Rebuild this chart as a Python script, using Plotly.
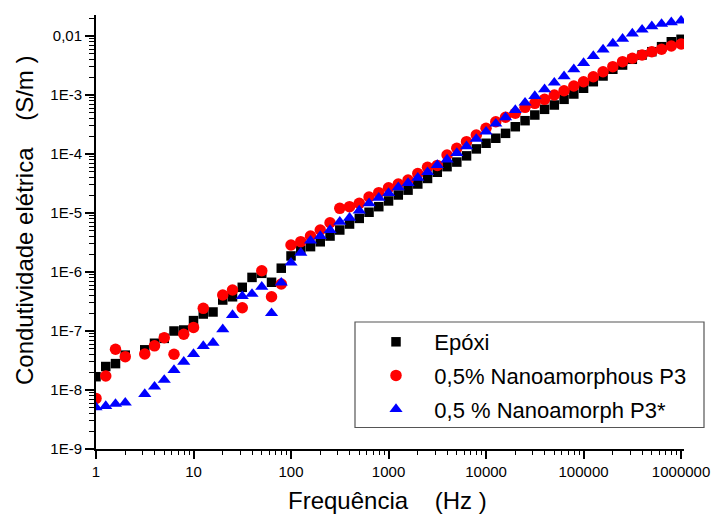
import plotly.graph_objects as go

# Frequency (Hz)
freq = [1, 1.259, 1.585, 1.995, 2.512, 3.162, 3.981, 5.012, 6.31, 7.943,
        10, 12.59, 15.85, 19.95, 25.12, 31.62, 39.81, 50.12, 63.1, 79.43,
        100, 125.9, 158.5, 199.5, 251.2, 316.2, 398.1, 501.2, 631, 794.3,
        1000, 1259, 1585, 1995, 2512, 3162, 3981, 5012, 6310, 7943,
        10000, 12589, 15849, 19953, 25119, 31623, 39811, 50119, 63096, 79433,
        100000, 125893, 158489, 199526, 251189, 316228, 398107, 501187, 630957, 794328,
        1000000]

epoxi = [1.68e-8, 2.5e-8, 2.8e-8, 3.9e-8, None, 4.8e-8, 6.2e-8, 7.5e-8, 1.0e-7, 1.04e-7,
         1.5e-7, 1.94e-7, 2.1e-7, 3.35e-7, 3.8e-7, 5.5e-7, 8.1e-7, 9.5e-7, 6.7e-7, 1.16e-6,
         1.87e-6, 2.36e-6, 2.69e-6, 3.25e-6, 4.07e-6, 5.15e-6, 6.5e-6, 8.1e-6, 1.03e-5, 1.28e-5,
         1.6e-5, 2.02e-5, 2.44e-5, 3.1e-5, 3.85e-5, 4.9e-5, 6.1e-5, 7.3e-5, 9.3e-5, 1.22e-4,
         1.52e-4, 1.85e-4, 2.24e-4, 2.9e-4, 3.67e-4, 4.58e-4, 5.72e-4, 6.77e-4, 8.45e-4, 1.04e-3,
         1.3e-3, 1.68e-3, 2.1e-3, 2.73e-3, 3.22e-3, 4.03e-3, 4.76e-3, 5.42e-3, 6.59e-3, 8.0e-3,
         8.8e-3]

nano = [7.2e-9, 1.73e-8, 4.9e-8, 3.67e-8, None, 4.07e-8, 5.6e-8, 7.7e-8, 4.03e-8, 8.8e-8,
        1.15e-7, 2.42e-7, None, 4.07e-7, 4.95e-7, 2.48e-7, None, 1.05e-6, 3.8e-7, 6.26e-7,
        2.87e-6, 3.27e-6, 4.07e-6, 5.15e-6, 6.85e-6, 1.2e-5, 1.28e-5, 1.46e-5, 1.87e-5, 2.21e-5,
        2.68e-5, 3.1e-5, 3.63e-5, 4.65e-5, 5.94e-5, 6.4e-5, 9.62e-5, 1.25e-4, 1.62e-4, 2.1e-4,
        2.73e-4, 3.52e-4, 4.19e-4, 4.9e-4, 6.18e-4, 7.23e-4, 8.45e-4, 1.0e-3, 1.18e-3, 1.42e-3,
        1.68e-3, 2.04e-3, 2.48e-3, 3.02e-3, 3.67e-3, 4.19e-3, 4.76e-3, 5.42e-3, 5.96e-3, 6.78e-3,
        7.31e-3]

nano_star = [5.1e-9, 5.35e-9, 5.8e-9, 6.1e-9, None, 8.55e-9, 1.14e-8, 1.48e-8, 2.18e-8, 3.0e-8,
             4.07e-8, 5.57e-8, 6.3e-8, 1.07e-7, 1.86e-7, 3.9e-7, 4.24e-7, 5.6e-7, 2.0e-7, 6.6e-7,
             1.44e-6, 2.12e-6, 3.39e-6, 4.07e-6, 5.15e-6, 7.1e-6, 8.3e-6, 1.1e-5, 1.46e-5, 1.81e-5,
             2.18e-5, 2.73e-5, 3.22e-5, 3.95e-5, 4.92e-5, 6.51e-5, 8.04e-5, 1.04e-4, 1.35e-4, 1.8e-4,
             2.39e-4, 3.26e-4, 4.19e-4, 5.57e-4, 7.4e-4, 9.6e-4, 1.25e-3, 1.62e-3, 2.07e-3, 2.73e-3,
             3.48e-3, 4.58e-3, 5.88e-3, 7.43e-3, 8.97e-3, 1.1e-2, 1.28e-2, 1.46e-2, 1.6e-2, 1.71e-2,
             1.82e-2]

series_names = ["Epóxi", "0,5% Nanoamorphous P3", "0,5 % Nanoamorph P3*"]

x_tickvals = [1, 10, 100, 1000, 10000, 100000, 1000000]
x_ticktext = ["1", "10", "100", "1000", "10000", "100000", "1000000"]
y_tickvals = [1e-9, 1e-8, 1e-7, 1e-6, 1e-5, 1e-4, 1e-3, 1e-2]
y_ticktext = ["1E-9", "1E-8", "1E-7", "1E-6", "1E-5", "1E-4", "1E-3", "0,01"]

FONT = "Arial, 'Liberation Sans', sans-serif"
NB = "\u00a0"

x_minor = [m * 10 ** d for d in range(0, 6) for m in range(2, 10)]
y_minor = [m * 10 ** d for d in range(-9, -1) for m in range(2, 10)]

fig = go.Figure()
styles = [
    dict(symbol="square", size=9.5, color="#000000"),
    dict(symbol="circle", size=11.5, color="#FF0000"),
    dict(symbol="triangle-up", size=11.5, color="#0000FF"),
]
for name, ys, st, grp in zip(series_names, [epoxi, nano, nano_star], styles, ["a", "b", "c"]):
    fig.add_trace(go.Scatter(
        x=freq, y=ys, mode="markers", name=NB * 3 + name, legendgroup=grp,
        marker=dict(symbol=st["symbol"], size=st["size"], color=st["color"], line=dict(width=0)),
    ))

W, H = 715, 518
L, R, T, B = 96, 31, 15, 69
pw, ph = W - L - R, H - T - B

def px_x(p):
    return (p - L) / pw

def px_y(p):
    return (H - B - p) / ph

fig.update_layout(
    width=W, height=H,
    margin=dict(l=L, r=R, t=T, b=B, autoexpand=False),
    paper_bgcolor="white", plot_bgcolor="white",
    font=dict(family=FONT, color="black"),
    showlegend=True,
    legend=dict(
        x=px_x(376), y=px_y(321), xanchor="left", yanchor="top",
        font=dict(family=FONT, size=22, color="black"),
        bgcolor="rgba(0,0,0,0)", borderwidth=0, tracegroupgap=2,
    ),
    xaxis=dict(
        type="log", range=[0, 6.03],
        showline=True, linewidth=2, linecolor="black", mirror=False,
        showgrid=False, zeroline=False,
        ticks="outside", ticklen=8, tickwidth=1.5, tickcolor="black",
        tickmode="array", tickvals=x_tickvals, ticktext=x_ticktext,
        tickfont=dict(family=FONT, size=15, color="black"),
        minor=dict(ticks="outside", ticklen=4, tickwidth=1.2, tickcolor="black",
                   tickmode="array", tickvals=x_minor, showgrid=False),
    ),
    yaxis=dict(
        type="log", range=[-9, -1.644],
        showline=True, linewidth=2, linecolor="black", mirror=False,
        showgrid=False, zeroline=False,
        ticks="outside", ticklen=9, tickwidth=1.5, tickcolor="black",
        tickmode="array", tickvals=y_tickvals, ticktext=y_ticktext,
        tickfont=dict(family=FONT, size=15, color="black"),
        minor=dict(ticks="outside", ticklen=5, tickwidth=1.2, tickcolor="black",
                   tickmode="array", tickvals=y_minor, showgrid=False),
    ),
    shapes=[dict(type="rect", xref="paper", yref="paper",
                 x0=px_x(355), x1=px_x(704), y0=px_y(427.5), y1=px_y(322),
                 line=dict(color="#555555", width=1.2), fillcolor="rgba(0,0,0,0)", layer="above")],
    annotations=[
        dict(text="Frequência" + NB * 4 + "(Hz" + NB + ")", xref="paper", yref="paper",
             x=px_x(387), y=px_y(501), xanchor="center", yanchor="middle", showarrow=False,
             font=dict(family=FONT, size=24, color="black")),
        dict(text="Condutividade elétrica" + NB * 4 + "(S/m" + NB + ")", xref="paper", yref="paper",
             x=px_x(24), y=px_y(221), xanchor="center", yanchor="middle", showarrow=False,
             textangle=-90, font=dict(family=FONT, size=24, color="black")),
    ],
)

fig.write_html("out.html",
               config={"displayModeBar": False},
               post_script="document.body.style.margin='0';document.body.style.overflow='hidden';")
